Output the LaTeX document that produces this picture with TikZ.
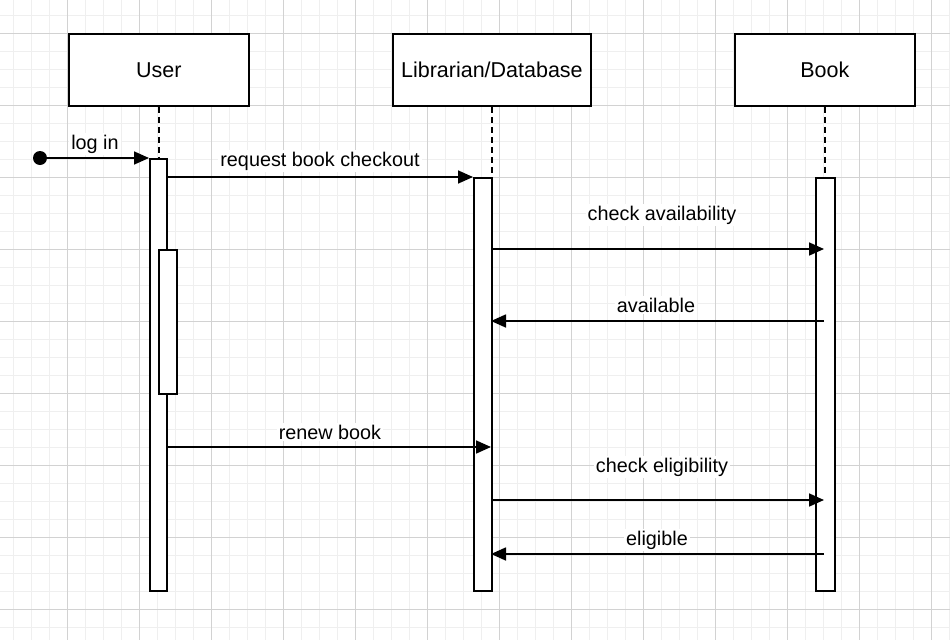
\documentclass[tikz,border=0pt]{standalone}
\usepackage{fontspec}
\setmainfont{Liberation Sans}
\usetikzlibrary{arrows.meta}
\definecolor{gmin}{HTML}{EFEFEF}
\definecolor{gmaj}{HTML}{D2D2D2}
\begin{document}
\begin{tikzpicture}[x=1pt,y=-1pt,
  actor/.style={draw,line width=1.8pt,fill=white,minimum width=180pt,minimum height=72pt,font=\fontsize{21.5}{24}\selectfont,inner sep=0pt,anchor=north west},
  actbar/.style={draw,line width=1.6pt,fill=white,inner sep=0pt,anchor=north west},
  life/.style={line width=1.5pt,dash pattern=on 6pt off 4pt},
  msg/.style={line width=1.7pt,-{Triangle[length=15pt,width=13pt]}},
  lbl/.style={fill=white,inner sep=2pt,font=\fontsize{19.8}{22}\selectfont},
  startdot/.style={circle,fill=black,minimum size=14pt,inner sep=0pt}
]
\useasboundingbox (0,0) rectangle (950,640);
\fill[white] (0,0) rectangle (950,640);
% grid
\foreach \x in {13,31,...,949} \draw[gmin,line width=1pt] (\x,0) -- (\x,640);
\foreach \y in {15,33,...,639} \draw[gmin,line width=1pt] (0,\y) -- (950,\y);
\foreach \x in {67,139,...,931} \draw[gmaj,line width=1pt] (\x,0) -- (\x,640);
\foreach \y in {33,105,...,609} \draw[gmaj,line width=1pt] (0,\y) -- (950,\y);

% actors
\node[actor,minimum width=180pt] (user) at (68,33) {User};
\node[actor,minimum width=198pt] (lib) at (392,33) {Librarian/Database};
\node[actor,minimum width=180pt] (book) at (734,33) {Book};

% activations
\node[actbar,minimum width=17pt,minimum height=432pt] (ua) at (149,158) {};
\node[actbar,minimum width=18pt,minimum height=413pt] (la) at (473,177) {};
\node[actbar,minimum width=19pt,minimum height=413pt] (ba) at (815,177) {};
\node[actbar,minimum width=18pt,minimum height=144pt] (ia) at (158,249) {};

% lifelines
\draw[life] (user.south) -- (user.south |- ua.north);
\draw[life] (lib.south) -- (lib.south |- la.north);
\draw[life] (book.south) -- (book.south |- ba.north);

% endpoints
\node[startdot] (start) at (40,158) {};
\coordinate (l1) at (491,249);
\coordinate (b1) at (824,249);
\coordinate (l2) at (491,321);
\coordinate (b2) at (824,321);
\coordinate (u3) at (166,447);
\coordinate (l3) at (491,447);
\coordinate (l4) at (491,500);
\coordinate (b4) at (824,500);
\coordinate (l5) at (491,554);
\coordinate (b5) at (824,554);

% messages
\draw[msg] (start.center) -- (ua.north west);
\draw[msg] (ua.east |- la.north) -- (la.north west);
\draw[msg] (l1) -- (b1);
\draw[msg] (b2) -- (l2);
\draw[msg] (u3) -- (l3);
\draw[msg] (l4) -- (b4);
\draw[msg] (b5) -- (l5);

% labels
\node[lbl] (t0) at (95,144) {log in};
\node[lbl] (t1) at (320,161) {request book checkout};
\node[lbl] (t2) at (662,215) {check availability};
\node[lbl] (t3) at (656,305) {available};
\node[lbl] (t4) at (330,432) {renew book};
\node[lbl] (t5) at (662,467) {check eligibility};
\node[lbl] (t6) at (657,540) {eligible};
\end{tikzpicture}
\end{document}
